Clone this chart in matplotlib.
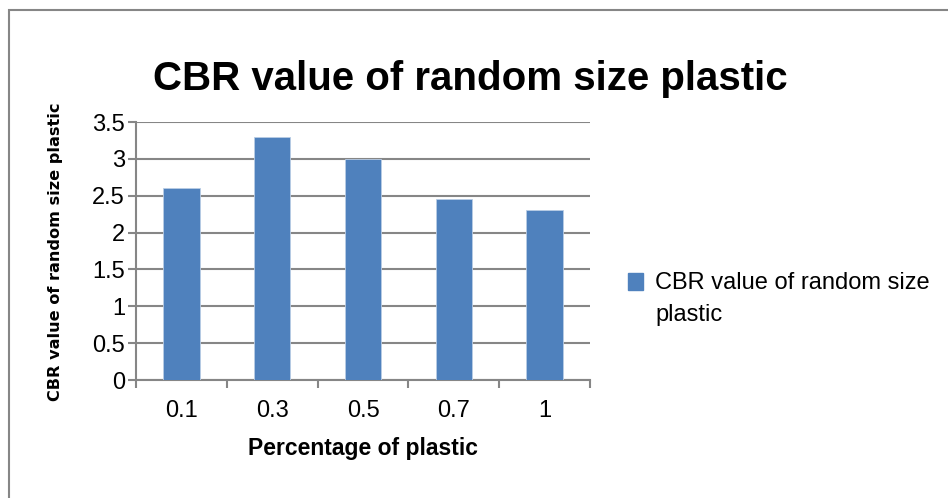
import matplotlib.pyplot as plt
from matplotlib.patches import Rectangle
from matplotlib import font_manager

# Percentage of plastic vs CBR value
categories = ["0.1", "0.3", "0.5", "0.7", "1"]
cbr_values = [2.6, 3.3, 3.0, 2.46, 2.3]
series_name = "CBR value of random size plastic"
yticks = [0, 0.5, 1, 1.5, 2, 2.5, 3, 3.5]

W, H = 948, 498

installed = {f.name for f in font_manager.fontManager.ttflist}
body_font = "Liberation Sans"
if "Liberation Sans Narrow" in installed:
    title_font, title_size = "Liberation Sans Narrow", 34
else:
    title_font, title_size = "Liberation Sans", 29

bar_color = "#4F81BD"
grid_color = "#868686"


def fx(px):
    return px / W


def fy(py):
    return 1 - py / H


fig = plt.figure(figsize=(W / 100, H / 100), dpi=100)
ax = fig.add_axes([fx(136), fy(380), (590 - 136) / W, (380 - 122) / H])

x = list(range(len(categories)))
ax.bar(x, cbr_values, width=0.40, color=bar_color, edgecolor="#b9cde5", linewidth=0.6,
       zorder=3)

ax.set_xlim(-0.5, len(categories) - 0.5)
ax.set_ylim(0, 3.5)
ax.set_yticks(yticks)
ax.set_yticklabels([f"{t:g}" for t in yticks], fontsize=17, family=body_font)
ax.set_xticks(x)
ax.set_xticklabels(categories, fontsize=17, family=body_font)
ax.tick_params(axis="x", length=0, pad=14.5)
ax.tick_params(axis="y", length=6, color=grid_color, width=1.5, pad=2)

# ticks on the category boundaries
ax.set_xticks([i - 0.5 for i in range(len(categories) + 1)], minor=True)
ax.tick_params(axis="x", which="minor", length=6, color=grid_color, width=1.5)

ax.yaxis.grid(True, color=grid_color, linewidth=1.5, zorder=0)
ax.set_axisbelow(True)
for side in ["top", "right"]:
    ax.spines[side].set_visible(False)
for side in ["left", "bottom"]:
    ax.spines[side].set_color(grid_color)
    ax.spines[side].set_linewidth(1.5)

# axis titles
fig.text(fx(363), fy(455), "Percentage of plastic", ha="center", va="baseline",
         fontsize=16.5, fontweight="bold", family=body_font)
fig.text(fx(56), fy(252), series_name, ha="center", va="center", rotation=90,
         fontsize=11.6, fontweight="bold", family="DejaVu Sans")

# chart title
fig.text(fx(470), fy(90), series_name, ha="center", va="baseline",
         fontsize=title_size, fontweight="bold", family=title_font)

# legend entry
fig.patches.append(Rectangle((fx(628), fy(290)), 15 / W, 17 / H,
                             transform=fig.transFigure, color=bar_color))
fig.text(fx(655), fy(289), "CBR value of random size", ha="left", va="baseline",
         fontsize=17, family=body_font)
fig.text(fx(655), fy(321), "plastic", ha="left", va="baseline",
         fontsize=17, family=body_font)

# chart border
fig.patches.append(Rectangle((fx(9), -0.1), 1.2, fy(10) + 0.1,
                             transform=fig.transFigure, fill=False,
                             edgecolor=grid_color, linewidth=1.5))

fig.savefig("out.png", dpi=100)
